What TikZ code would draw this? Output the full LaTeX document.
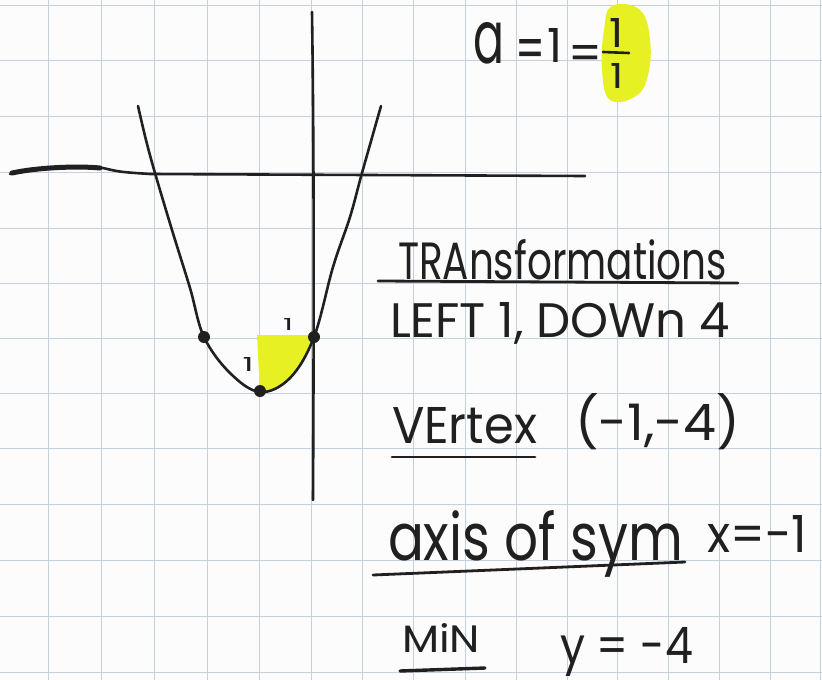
\documentclass[tikz,border=0pt]{standalone}
\usepackage{fontspec}
\setmainfont{Poppins}
\usepackage{graphicx}
\definecolor{gridc}{RGB}{198,208,220}
\definecolor{ink}{RGB}{32,32,32}
\definecolor{hl}{RGB}{230,240,35}
\definecolor{paper}{RGB}{252,252,252}
\newcommand{\hwtext}[3]{\resizebox{#1pt}{#2pt}{#3}}
\begin{document}
\begin{tikzpicture}[x=1pt,y=-1pt,
  gridline/.style={gridc, line width=0.75pt},
  inkline/.style={ink, line width=2.6pt, line cap=round, line join=round},
  underl/.style={ink, line width=2.8pt, line cap=round},
  txt/.style={inner sep=0pt, outer sep=0pt, anchor=base west, text=ink},
  tick/.style={inner sep=0pt, text=ink},
  dot/.style={circle, fill=ink, inner sep=0pt, minimum size=12pt}]
\fill[paper] (0,0) rectangle (822,680);
\useasboundingbox (0,0) rectangle (822,680);
% grid
\foreach \gx in {48,101,154,207,259,311,362,413,465,516,567,617,668,719,770,820}
  \draw[gridline] (\gx,0) -- (\gx,680);
\foreach \gy in {5,60,116,172,228,283,338,393,448,504,560,616,672}
  \draw[gridline] (0,\gy) -- (822,\gy);
% highlights
\fill[hl] plot[smooth cycle, tension=0.7] coordinates {(612,6) (640,10) (650,40) (648,75) (636,96) (610,100) (602,70) (604,30)};
\fill[hl] (257,335) -- (314,335) .. controls (302,366) and (286,391) .. (260,394) -- cycle;
% axes
\draw[inkline] (10,174) .. controls (40,167) and (80,166) .. (103,168) .. controls (120,172) .. (150,174) -- (585,176);
\draw[ink, line width=5pt, line cap=round] (12,173) .. controls (40,167) and (80,166) .. (100,168);
\draw[inkline] (312,12) .. controls (314,150) and (314,300) .. (313,500);
% parabola
\draw[inkline] plot[smooth, tension=0.6] coordinates {(138,106) (146,140) (155,173) (172,230) (190,288) (204,337) (230,373) (260,392) (290,378) (314,337) (333,267) (350,217) (362,173) (381,106)};
\node[dot] (p1) at (204,337) {};
\node[dot] (p2) at (260,391) {};
\node[dot] (p3) at (314,337) {};
\node[tick] (t1) at (248,364) {\hwtext{11}{14}{1}};
\node[tick] (t2) at (288,324) {\hwtext{10}{12}{1}};
% a = 1 = 1/1
\node[txt] (a) at (473,63) {\hwtext{31}{41}{a}};
\node[txt] (eqa) at (515,69) {\hwtext{30}{30}{=}};
\node[txt] (one) at (547,62) {\hwtext{15}{34}{1}};
\node[txt] (eqb) at (568,70) {\hwtext{34}{25}{=}};
\node[txt] (num) at (609,47) {\hwtext{14}{29}{1}};
\draw[ink, line width=2.6pt, line cap=round] (603,52) -- (629,53);
\node[txt] (den) at (610,88) {\hwtext{13}{25}{1}};
% right column
\node[txt] (trans) at (398,279) {\hwtext{329}{40}{TRAnsformations}};
\draw[underl] (378,281) -- (738,283);
\node[txt] (shift) at (390,337) {\hwtext{340}{35}{LEFT 1, DOWn 4}};
\node[txt] (vtx) at (392,443) {\hwtext{145}{36}{VErtex}};
\draw[underl] (392,457) -- (535,457);
\node[txt] (vval) at (575,440) {\hwtext{165}{47}{(-1,-4)}};
\node[txt] (axis) at (388,560) {\hwtext{295}{50}{axis of sym}};
\draw[underl] (373,575) -- (685,562);
\node[txt] (aval) at (707,552) {\hwtext{100}{37}{x=-1}};
\node[txt] (mn) at (402,652) {\hwtext{78}{29}{MiN}};
\draw[ink, line width=3.4pt, line cap=round] (400,671) -- (485,668);
\node[txt] (mval) at (560,663) {\hwtext{133}{36}{y = -4}};
\end{tikzpicture}
\end{document}
